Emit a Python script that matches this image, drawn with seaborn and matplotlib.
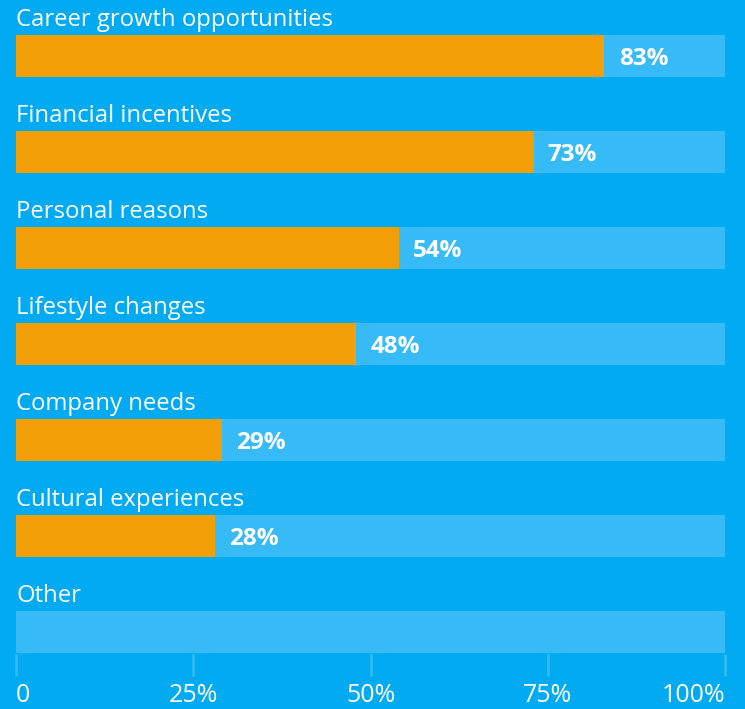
import matplotlib
matplotlib.use("Agg")
import matplotlib.pyplot as plt
import seaborn as sns
import pandas as pd

categories = ["Career growth opportunities", "Financial incentives", "Personal reasons",
              "Lifestyle changes", "Company needs", "Cultural experiences", "Other"]
values = [83, 73, 54, 48, 29, 28, 0]
tick_values = [0, 25, 50, 75, 100]
tick_labels = ["0", "25%", "50%", "75%", "100%"]

BG = "#02ABF1"
TRACK = "#36BBF6"
ORANGE = "#F29F07"

df = pd.DataFrame({"category": categories, "value": values, "full": [100] * len(categories)})

sns.set_theme(style="white")
plt.rcParams["font.family"] = ["Open Sans", "DejaVu Sans"]

fig = plt.figure(figsize=(7.45, 7.09), dpi=100, facecolor=BG)
W, H = 745, 709
ax = fig.add_axes([16 / W, 1 - 676 / H, (725 - 16) / W, 676 / H])
ax.set_facecolor(BG)

bar_w = 0.4375
sns.barplot(data=df, y="category", x="full", orient="h", color=TRACK,
            width=bar_w, saturation=1, linewidth=0, edgecolor="none", ax=ax)
sns.barplot(data=df, y="category", x="value", orient="h", color=ORANGE,
            width=bar_w, saturation=1, linewidth=0, edgecolor="none", ax=ax)

for i, (cat, v) in enumerate(zip(categories, values)):
    ax.text(0, i - bar_w / 2 - 0.095, cat, color="white", fontsize=17.2,
            ha="left", va="baseline")
    if v > 0:
        ax.text(v + 2.0, i, f"{v}%", color="white", fontsize=17.5, fontweight="bold",
                ha="left", va="center_baseline")

ax.set_xlim(0, 100)
ax.set_ylim((676 - 56) / 96, -56 / 96)
ax.set_xticks(tick_values)
ax.set_xticklabels(tick_labels)
for lab, ha in zip(ax.get_xticklabels(), ["left", "center", "center", "center", "right"]):
    lab.set_ha(ha)
ax.tick_params(axis="x", direction="in", length=15.5, width=1.8, color=TRACK,
               labelcolor="white", labelsize=18, pad=5, bottom=True)
ax.set_yticks([])
ax.set_xlabel("")
ax.set_ylabel("")
for s in ax.spines.values():
    s.set_visible(False)

fig.savefig("out.png", dpi=100, facecolor=BG)
